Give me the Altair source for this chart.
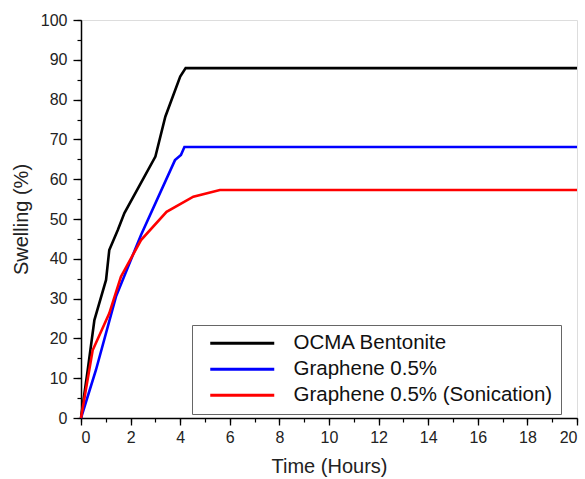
import altair as alt
import pandas as pd

# Swelling curves (time in hours, swelling in %)
series_names = ["OCMA Bentonite", "Graphene 0.5%", "Graphene 0.5% (Sonication)"]
series_colors = ["#000000", "#0000ff", "#ff0000"]

ocma_t = [0, 0.27, 0.54, 1.01, 1.14, 1.48, 1.75, 3.0, 3.4, 4.0, 4.22, 20]
ocma_s = [0, 12.0, 24.6, 34.7, 42.2, 47.2, 51.5, 65.7, 75.7, 85.8, 87.9, 87.9]

gra_t = [0, 0.6, 1.41, 2.42, 3.79, 4.03, 4.17, 20]
gra_s = [0, 12.0, 30.5, 46.0, 64.8, 66.1, 68.1, 68.1]

son_t = [0, 0.47, 1.14, 1.61, 2.42, 3.45, 4.53, 5.6, 20]
son_s = [0, 17.0, 26.3, 35.5, 44.7, 51.8, 55.6, 57.3, 57.3]

rows = []
for name, ts, ss in zip(series_names, [ocma_t, gra_t, son_t], [ocma_s, gra_s, son_s]):
    for i, (t, s) in enumerate(zip(ts, ss)):
        rows.append({"series": name, "time": t, "swelling": s, "order": i})
df = pd.DataFrame(rows)

x_major = list(range(0, 21, 2))
x_minor = list(range(0, 21, 1))
y_major = list(range(0, 101, 10))
y_minor = list(range(0, 101, 5))

font = "Liberation Sans"

x_scale = alt.Scale(domain=[0, 20], nice=False)
y_scale = alt.Scale(domain=[0, 100], nice=False)

# Legend swatch: a horizontal segment starting at the symbol centre,
# scaled by sqrt(size)/2 so it spans 64px while the row stays compact.
legend_line = "M0,0H8"

lines = alt.Chart(df).mark_line(strokeWidth=2.6).encode(
    x=alt.X("time:Q", scale=x_scale, title="Time (Hours)",
            axis=alt.Axis(values=x_major, orient="bottom", tickSize=7, tickWidth=1.3,
                          domainWidth=1.5, domainColor="black", tickColor="black",
                          labelFontSize=16, labelColor="#222", labelPadding=4,
                          titleFontSize=20, titleFontWeight="normal", titleColor="#222",
                          titlePadding=11, grid=False, labelFont=font, titleFont=font)),
    y=alt.Y("swelling:Q", scale=y_scale, title="Swelling (%)",
            axis=alt.Axis(values=y_major, orient="left", tickSize=8, tickWidth=1.3,
                          domainWidth=1.5, domainColor="black", tickColor="black",
                          labelFontSize=16, labelColor="#222", labelPadding=6,
                          titleFontSize=20, titleFontWeight="normal", titleColor="#222",
                          titlePadding=9, grid=False, labelFont=font, titleFont=font)),
    color=alt.Color("series:N",
                    scale=alt.Scale(domain=series_names, range=series_colors),
                    sort=series_names,
                    legend=alt.Legend(title=None, orient="none", legendX=111, legendY=305,
                                      symbolType=legend_line, symbolSize=256,
                                      symbolStrokeWidth=3, labelFontSize=20.5,
                                      labelFont=font, labelColor="#111",
                                      labelOffset=73, rowPadding=5,
                                      padding=8, strokeColor="#666",
                                      fillColor="white", labelLimit=400)),
    order="order:Q",
)

# Minor ticks drawn with a second, label-free axis on the same scales
minor = alt.Chart(df).mark_point(opacity=0).encode(
    x=alt.X("time:Q", scale=x_scale, title=None,
            axis=alt.Axis(values=x_minor, orient="bottom", tickSize=4, tickWidth=1.2,
                          tickColor="black", labels=False, domain=False, grid=False)),
    y=alt.Y("swelling:Q", scale=y_scale, title=None,
            axis=alt.Axis(values=y_minor, orient="left", tickSize=4, tickWidth=1.2,
                          tickColor="black", labels=False, domain=False, grid=False)),
)

chart = alt.layer(minor, lines).resolve_axis(x="independent", y="independent").properties(
    width=496, height=398,
    autosize=alt.AutoSizeParams(type="none"),
    padding={"left": 81, "top": 20, "right": 8, "bottom": 61},
).configure_view(stroke="#808080", strokeWidth=1).configure(background="white")

chart.save("out.html", embed_options={"renderer": "svg", "actions": False})
